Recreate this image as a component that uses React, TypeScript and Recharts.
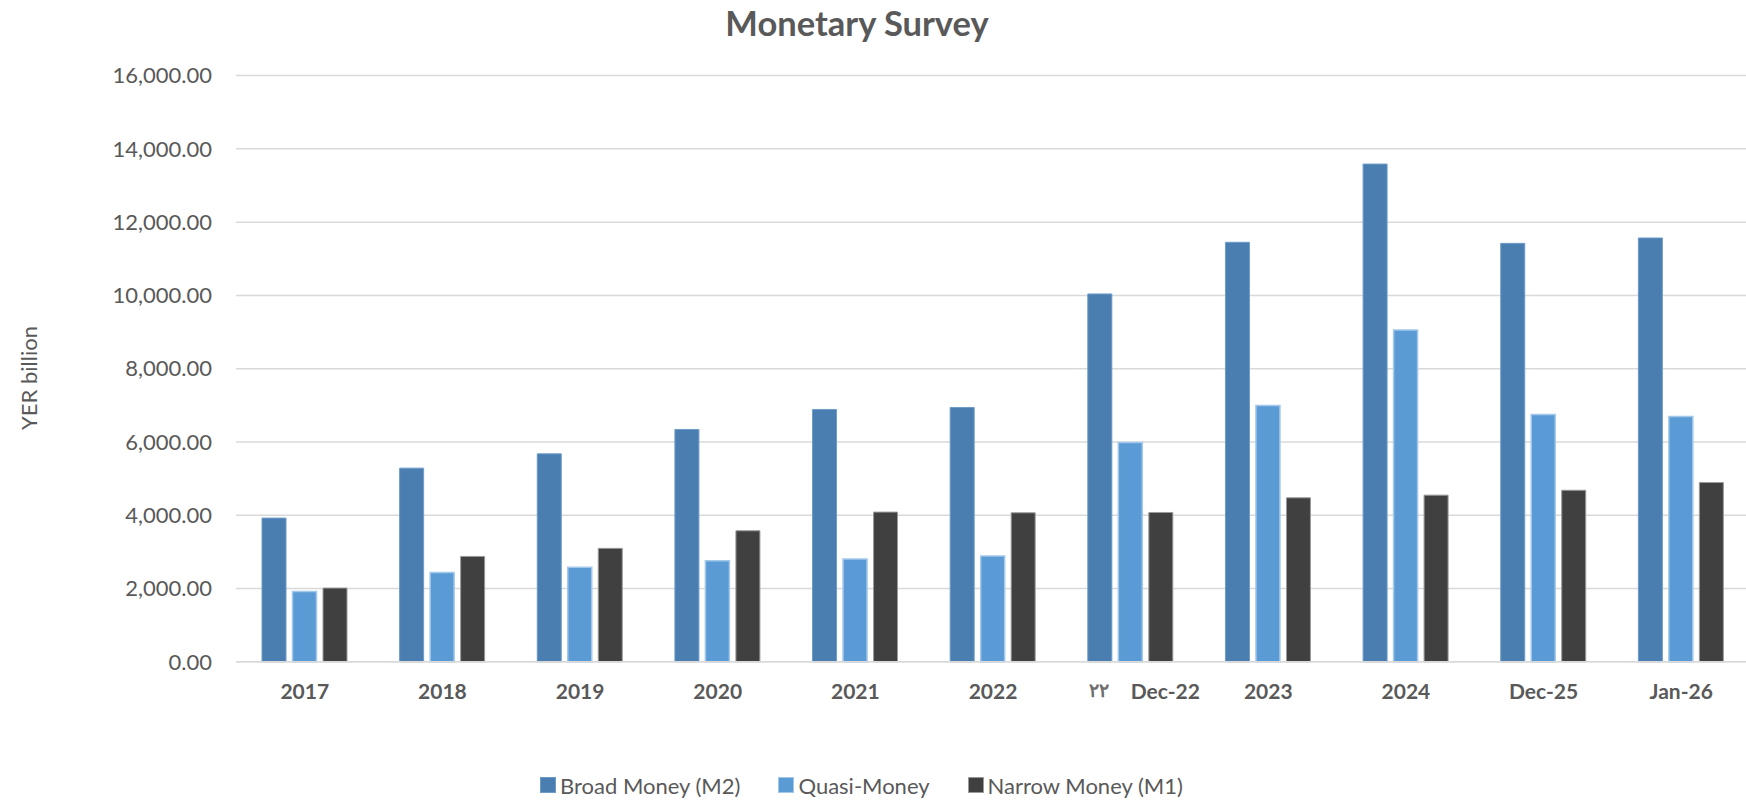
import { Bar, BarChart, CartesianGrid, Legend, XAxis, YAxis } from "recharts";

// chart data
const categories = ["2017", "2018", "2019", "2020", "2021", "2022", "٢٢ Dec-22", "2023", "2024", "Dec-25", "Jan-26"];
const broadMoney = [3920, 5284, 5674, 6340, 6886, 6940, 10039, 11449, 13585, 11420, 11567];
const quasiMoney = [1918, 2437, 2576, 2756, 2802, 2884, 5983, 6993, 9057, 6751, 6696];
const narrowMoney = [2010, 2874, 3094, 3574, 4084, 4065, 4074, 4474, 4547, 4680, 4891];
const yTicks = [0, 2000, 4000, 6000, 8000, 10000, 12000, 14000, 16000];

const series = [
  { key: "m2", name: "Broad Money (M2)", fill: "#4a7eb0", stroke: "#6d9bc8", sw: 1 },
  { key: "quasi", name: "Quasi-Money", fill: "#5b9bd5", stroke: "#a3c8ea", sw: 1.5 },
  { key: "m1", name: "Narrow Money (M1)", fill: "#404040", stroke: "#9a9a9a", sw: 1 },
];

const data = categories.map((c, i) => ({
  name: c,
  m2: broadMoney[i],
  quasi: quasiMoney[i],
  m1: narrowMoney[i],
}));

const FONT = "Lato, 'Open Sans', sans-serif";
const TEXT = "#595959";

const fmt = (v: number) =>
  v.toLocaleString("en-US", { minimumFractionDigits: 2, maximumFractionDigits: 2 });

const XTick = (props: any) => {
  const { x, y, payload } = props;
  const label: string = payload.value;
  if (label.includes(" ")) {
    // the Dec-22 label carries stray arabic digits in front
    const [pre, rest] = label.split(" ");
    return (
      <g>
        <text x={x - 22} y={y} dy="0.71em" textAnchor="end" fontFamily={FONT} fontSize={19} fontWeight={700} fill="#6f6f6f">
          {pre}
        </text>
        <text x={x} y={y} dy="0.71em" textAnchor="start" fontFamily={FONT} fontSize={21} fontWeight={700} fill={TEXT}>
          {rest}
        </text>
      </g>
    );
  }
  return (
    <text x={x} y={y} dy="0.71em" textAnchor="middle" fontFamily={FONT} fontSize={21} fontWeight={700} fill={TEXT}>
      {label}
    </text>
  );
};

const LegendContent = () => (
  <div style={{ display: "flex", alignItems: "center", height: 30, paddingLeft: 540, fontFamily: FONT, fontSize: 22, color: TEXT }}>
    {series.map((s) => (
      <div key={s.key} style={{ display: "flex", alignItems: "center", marginRight: 38 }}>
        <span
          style={{
            display: "inline-block",
            width: 14,
            height: 14,
            background: s.fill,
            border: `1px solid ${s.stroke}`,
            marginRight: 4,
          }}
        />
        <span>{s.name}</span>
      </div>
    ))}
  </div>
);

const YLabel = () => (
  <text
    x={28}
    y={378}
    transform="rotate(-90 28 378)"
    textAnchor="middle"
    dominantBaseline="central"
    fontFamily={FONT}
    fontSize={22}
    fill={TEXT}
  >
    YER billion
  </text>
);

export default function App() {
  return (
    <div style={{ position: "absolute", left: 0, top: 0, width: 1746, height: 802, overflow: "hidden", background: "#fff" }}>
      <div
        style={{
          position: "absolute",
          left: 0,
          width: 1714,
          top: 2,
          textAlign: "center",
          fontFamily: FONT,
          fontWeight: 700,
          fontSize: 34.5,
          color: TEXT,
        }}
      >
        Monetary Survey
      </div>
      <BarChart
        width={1750}
        height={802}
        data={data}
        margin={{ top: 75.6, right: 0, bottom: 0, left: 0 }}
        barSize={24}
        barGap={6.5}
      >
        <CartesianGrid vertical={false} stroke="#d9d9d9" strokeWidth={1.5} />
        <XAxis
          dataKey="name"
          interval={0}
          tickLine={false}
          tickSize={0}
          tickMargin={22}
          height={110.3}
          axisLine={{ stroke: "#d9d9d9", strokeWidth: 1.5 }}
          tick={<XTick />}
        />
        <YAxis
          width={236}
          domain={[0, 16000]}
          ticks={yTicks}
          interval={0}
          axisLine={false}
          tickLine={false}
          tickSize={0}
          tickMargin={24}
          tickFormatter={fmt}
          tick={{ fontFamily: FONT, fontSize: 22, fill: TEXT }}
          label={{ content: () => <YLabel /> }}
        />
        <Legend verticalAlign="bottom" height={30} content={<LegendContent />} wrapperStyle={{ bottom: 2 }} />
        {series.map((s) => (
          <Bar
            key={s.key}
            dataKey={s.key}
            name={s.name}
            fill={s.fill}
            stroke={s.stroke}
            strokeWidth={s.sw}
            isAnimationActive={false}
          />
        ))}
      </BarChart>
    </div>
  );
}
